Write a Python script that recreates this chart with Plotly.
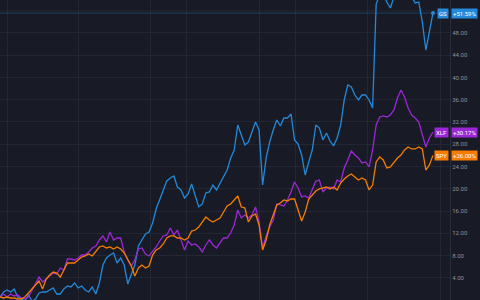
import pandas as pd
import plotly.graph_objects as go

# 3-calendar-day samples, 2023-12-26 .. 2024-12-26
dates = pd.date_range("2023-12-26", periods=123, freq="3D")

gs = [0.54, 1.44, 1.80, 1.44, 1.98, 0.54, 0.18, -0.18, 0.90, -0.18,
      0.18, 1.26, 1.44, 1.44, 1.80, 2.16, 1.08, 1.08, 1.98, 2.52,
      2.34, 3.06, 2.16, 2.52, 1.80, 1.44, 2.34, 1.08, 3.06, 6.29,
      7.55, 8.09, 8.45, 6.65, 7.55, 6.29, 2.88, 4.67, 6.29, 9.71,
      10.79, 11.87, 12.22, 13.84, 16.36, 18.16, 19.60, 21.39, 21.93, 22.29,
      20.31, 19.78, 18.34, 19.06, 20.85, 18.88, 16.72, 17.26, 19.24, 19.42,
      20.67, 19.78, 21.03, 22.29, 23.37, 25.53, 26.97, 31.46, 29.66, 27.87,
      28.40, 30.20, 32.00, 30.56, 20.67, 25.53, 28.40, 30.56, 32.36, 31.28,
      32.72, 32.72, 33.44, 28.76, 28.04, 26.07, 22.47, 24.81, 26.97, 31.46,
      30.92, 28.76, 30.02, 28.58, 27.69, 29.12, 31.46, 35.96, 38.65, 38.29,
      36.85, 35.96, 36.85, 36.85, 35.96, 34.52, 53.21, 54.83, 55.01, 53.57,
      52.49, 54.47, 55.37, 55.73, 55.37, 55.01, 54.47, 53.39, 53.57, 49.98,
      44.94, 48.54, 51.59]

xlf = [0.54, 1.08, 0.54, 1.08, 0.72, 0.90, 0.36, 0.18, 0.54, 1.80,
       2.88, 4.13, 3.24, 3.78, 4.31, 4.85, 4.67, 5.75, 5.39, 7.37,
       7.37, 7.19, 7.55, 8.09, 8.09, 8.63, 9.35, 9.71, 10.79, 11.51,
       10.43, 12.22, 10.79, 11.15, 11.15, 8.63, 7.19, 6.11, 7.19, 9.17,
       9.35, 8.27, 7.91, 8.63, 9.53, 10.61, 11.51, 11.69, 12.94, 11.69,
       12.58, 10.79, 8.99, 10.61, 9.89, 10.07, 9.53, 8.63, 9.89, 10.79,
       9.89, 9.35, 10.25, 11.15, 11.15, 12.04, 13.48, 16.18, 14.74, 15.28,
       14.74, 15.28, 16.72, 14.02, 9.35, 11.51, 13.12, 14.38, 17.26, 17.08,
       16.90, 17.98, 19.42, 21.21, 20.13, 18.52, 18.70, 18.34, 19.78, 21.39,
       21.57, 19.42, 20.13, 20.31, 19.96, 21.57, 21.21, 23.73, 25.17, 26.79,
       26.07, 25.53, 24.63, 24.81, 23.91, 26.97, 31.46, 32.90, 33.08, 32.90,
       33.26, 34.16, 36.31, 37.75, 36.49, 34.52, 33.26, 32.72, 32.00, 29.66,
       27.51, 29.12, 30.17]

spy = [0.54, 0.36, 0.54, 0.36, 0.36, 0.18, 0.18, 0.54, 1.26, 1.98,
       2.70, 3.42, 1.98, 3.78, 4.49, 5.03, 4.85, 4.13, 5.39, 6.65,
       6.65, 6.65, 7.19, 7.73, 7.91, 8.27, 7.91, 8.63, 9.53, 9.71,
       9.35, 9.53, 9.17, 9.53, 9.17, 8.45, 7.19, 6.11, 4.31, 5.75,
       6.29, 5.75, 6.11, 8.09, 8.99, 9.35, 10.07, 11.15, 11.51, 11.51,
       11.15, 11.15, 10.79, 11.15, 12.40, 12.58, 13.12, 14.02, 14.92, 14.38,
       14.02, 14.38, 14.74, 15.82, 16.90, 17.26, 17.98, 18.70, 16.72, 16.54,
       14.02, 15.10, 15.46, 13.48, 8.99, 10.79, 13.48, 15.46, 17.08, 17.44,
       17.98, 17.80, 18.16, 18.16, 16.18, 14.20, 15.82, 18.16, 18.88, 19.60,
       19.96, 20.13, 20.31, 19.96, 20.31, 19.78, 21.03, 21.75, 22.29, 22.65,
       22.11, 21.57, 21.93, 21.57, 19.78, 20.67, 24.81, 25.71, 25.17, 23.73,
       23.91, 24.81, 25.53, 26.07, 26.97, 27.51, 27.15, 27.15, 27.51, 27.15,
       23.37, 24.27, 26.00]

series_names = ["GS", "XLF", "SPY"]
series_vals = [gs, xlf, spy]
series_colors = ["#2389da", "#9c27d6", "#f57c00"]
last_labels = ["+51.59%", "+30.17%", "+26.00%"]

y_ticks = [0, 4, 8, 12, 16, 20, 24, 28, 32, 36, 40, 44, 48]
y_grid = y_ticks + [52]

month_grid = ["2024-01-01", "2024-03-01", "2024-05-01", "2024-06-01",
              "2024-08-01", "2024-09-01", "2024-11-01", "2025-01-01"]

BG = "#181b25"
GRID = "#232733"

fig = go.Figure()

# horizontal grid line that has no label (hidden behind GS label in reference)
fig.add_hline(y=y_grid[-1], line=dict(color=GRID, width=1), layer="below")
# GS last-value price line
fig.add_hline(y=gs[-1], line=dict(color="rgba(35,137,218,0.35)", width=1))

for name, vals, col in zip(series_names, series_vals, series_colors):
    fig.add_trace(go.Scatter(x=dates, y=vals, mode="lines", name=name,
                             line=dict(color=col, width=1.3)))

fig.add_trace(go.Scatter(x=[dates[-1]], y=[gs[-1]], mode="markers",
                         marker=dict(color=series_colors[0], size=4),
                         showlegend=False))

for name, vals, col, lab in zip(series_names, series_vals, series_colors, last_labels):
    fig.add_annotation(x=0.998, xref="paper", y=vals[-1], yref="y",
                       xanchor="right", yanchor="middle", text=name,
                       showarrow=False, bgcolor=col, borderpad=1,
                       font=dict(size=6, color="#ffffff", family="Roboto"))
    fig.add_annotation(x=1.002, xref="paper", y=vals[-1], yref="y",
                       xanchor="left", yanchor="middle", text=lab,
                       showarrow=False, bgcolor=col, borderpad=1,
                       font=dict(size=6, color="#ffffff", family="Roboto"))

fig.update_layout(
    width=480, height=300,
    margin=dict(l=0, r=30, t=0, b=0),
    paper_bgcolor=BG, plot_bgcolor=BG,
    showlegend=False,
    xaxis=dict(type="date", range=["2023-12-26", "2025-01-09 10:00"],
               tickvals=month_grid, showticklabels=False,
               showgrid=True, gridcolor=GRID, gridwidth=1,
               zeroline=False, showline=False, ticks=""),
    yaxis=dict(side="right", range=[0, 53.93], tickvals=y_ticks,
               tickformat=".2f", ticksuffix="%",
               showgrid=True, gridcolor=GRID, gridwidth=1,
               zeroline=False, showline=True, linecolor="#2a2e39",
               ticks="", tickfont=dict(size=6, color="#8c909b", family="Roboto")),
)

fig.write_html("out.html")
